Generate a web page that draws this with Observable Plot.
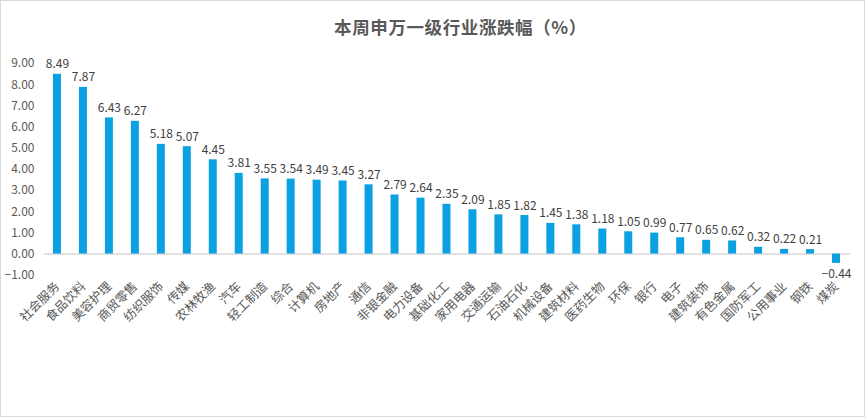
<!DOCTYPE html>
<html><head><meta charset="utf-8">
<script src="https://cdn.jsdelivr.net/npm/d3@7"></script>
<script src="https://cdn.jsdelivr.net/npm/@observablehq/plot@0.6"></script>
<style>
html,body{margin:0;padding:0;background:#fff;}
#wrap{width:863px;height:415px;border:1px solid #d9d9d9;position:relative;overflow:hidden;font-family:"Noto Sans CJK SC","Noto Sans",sans-serif;}
#title{position:absolute;left:0;top:13px;width:865px;text-align:center;padding-left:54px;box-sizing:border-box;font-size:17.5px;font-weight:bold;color:#595959;letter-spacing:0.6px;}
#chart{position:absolute;left:-1px;top:49px;}
</style></head>
<body><div id="wrap"><div id="title">本周申万一级行业涨跌幅（%）</div><div id="chart"></div></div>
<script>
const industries = ["社会服务","食品饮料","美容护理","商贸零售","纺织服饰","传媒","农林牧渔","汽车","轻工制造","综合","计算机","房地产","通信","非银金融","电力设备","基础化工","家用电器","交通运输","石油石化","机械设备","建筑材料","医药生物","环保","银行","电子","建筑装饰","有色金属","国防军工","公用事业","钢铁","煤炭"];
const changes = [8.49,7.87,6.43,6.27,5.18,5.07,4.45,3.81,3.55,3.54,3.49,3.45,3.27,2.79,2.64,2.35,2.09,1.85,1.82,1.45,1.38,1.18,1.05,0.99,0.77,0.65,0.62,0.32,0.22,0.21,-0.44];
const yTicks = [-1,0,1,2,3,4,5,6,7,8,9];
const data = industries.map((name,i)=>({name, value: changes[i]}));
const fmt = d3.format(".2f");
const chart = Plot.plot({
  width: 865, height: 367,
  marginLeft: 44, marginRight: 14, marginTop: 13, marginBottom: 142,
  style: {fontFamily: '"Noto Sans CJK SC","Noto Sans",sans-serif', color: "#595959", background: "transparent"},
  x: {domain: industries, paddingInner: 0.69, paddingOuter: 0.345, label: null},
  y: {domain: [-1, 9], label: null},
  marks: [
    Plot.axisY({ticks: yTicks, tickFormat: fmt, tickSize: 0, tickPadding: 10, fontSize: 12, fill: "#595959", label: null}),
    Plot.axisX({tickRotate: -45, tickSize: 0, tickPadding: 9, fontSize: 12.5, fill: "#595959", label: null}),
    Plot.ruleY([0], {stroke: "#d9d9d9", strokeWidth: 1.5}),
    Plot.barY(data, {x: "name", y: "value", fill: "#0aa0e2"}),
    Plot.text(data, {x: "name", y: "value", text: d => fmt(d.value), fontSize: 12, fill: "#404040",
      lineAnchor: "bottom", filter: d => d.value >= 0, dy: -6}),
    Plot.text(data, {x: "name", y: "value", text: d => fmt(d.value), fontSize: 12, fill: "#404040",
      lineAnchor: "top", filter: d => d.value < 0, dy: 6})
  ]
});
document.getElementById("chart").appendChild(chart);
</script></body></html>
